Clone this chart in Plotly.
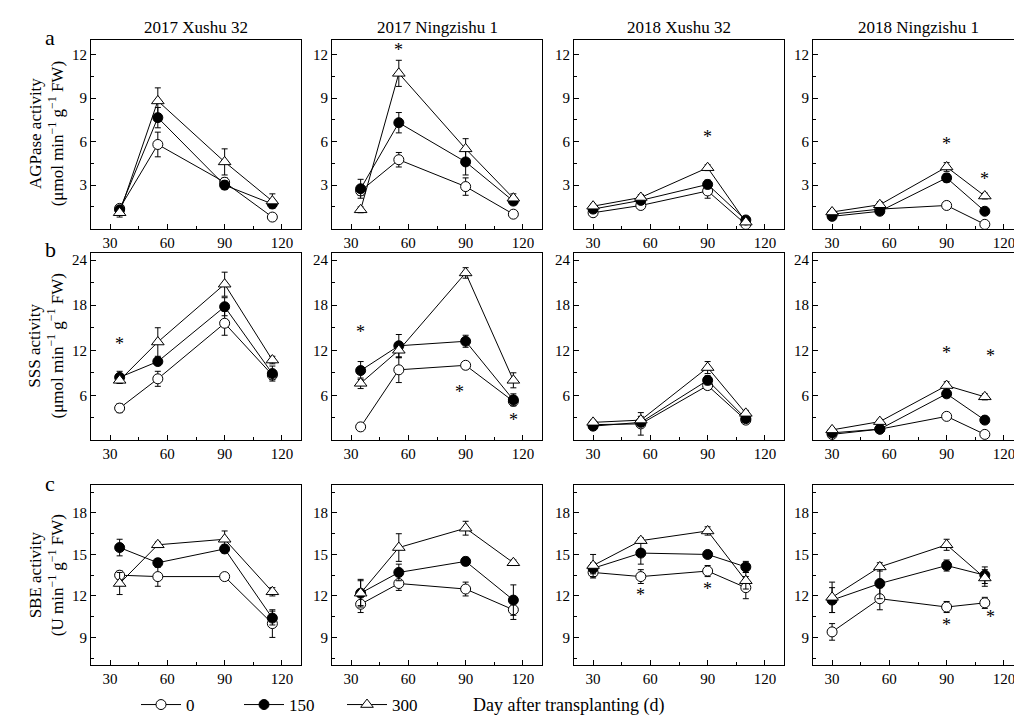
import plotly.graph_objects as go

# ---------------- data ----------------
col_titles = ["2017 Xushu 32", "2017 Ningzishu 1", "2018 Xushu 32", "2018 Ningzishu 1"]
row_letters = ["a", "b", "c"]
series_names = ["0", "150", "300"]
days_2017 = [35, 55, 90, 115]
days_2018 = [30, 55, 90, 110]
x_ticks = [30, 60, 90, 120]

# AGPase activity
agp_x17_0 = [1.4, 5.8, 3.2, 0.8];    agp_x17_0_err = [0.2, 0.85, 0.3, 0.15]
agp_x17_150 = [1.3, 7.65, 3.0, 1.7]; agp_x17_150_err = [0.2, 0.7, 0.3, 0.2]
agp_x17_300 = [1.1, 8.8, 4.6, 1.9];  agp_x17_300_err = [0.3, 0.9, 0.9, 0.5]
agp_n17_0 = [2.6, 4.75, 2.9, 1.0];   agp_n17_0_err = [0.3, 0.5, 0.6, 0.2]
agp_n17_150 = [2.75, 7.3, 4.6, 1.9]; agp_n17_150_err = [0.65, 0.7, 0.9, 0.2]
agp_n17_300 = [1.3, 10.7, 5.5, 2.1]; agp_n17_300_err = [0.2, 0.9, 0.7, 0.3]
agp_x18_0 = [1.1, 1.6, 2.6, 0.3];    agp_x18_0_err = [0.2, 0.2, 0.5, 0.1]
agp_x18_150 = [1.35, 1.95, 3.05, 0.6]; agp_x18_150_err = [0.15, 0.2, 0.3, 0.1]
agp_x18_300 = [1.55, 2.15, 4.2, 0.45]; agp_x18_300_err = [0.15, 0.2, 0.2, 0.1]
agp_n18_0 = [1.0, 1.35, 1.6, 0.3];   agp_n18_0_err = [0.15, 0.15, 0.2, 0.1]
agp_n18_150 = [0.85, 1.2, 3.5, 1.2]; agp_n18_150_err = [0.15, 0.15, 0.3, 0.15]
agp_n18_300 = [1.15, 1.65, 4.25, 2.25]; agp_n18_300_err = [0.15, 0.2, 0.3, 0.2]

# SSS activity
sss_x17_0 = [4.3, 8.2, 15.6, 8.7];     sss_x17_0_err = [0.6, 1.0, 1.6, 0.6]
sss_x17_150 = [8.4, 10.5, 17.8, 8.9];  sss_x17_150_err = [0.8, 0.5, 1.2, 1.0]
sss_x17_300 = [8.0, 13.1, 20.8, 10.7]; sss_x17_300_err = [0.4, 1.9, 1.6, 0.5]
sss_n17_0 = [1.8, 9.4, 10.0, 5.2];     sss_n17_0_err = [0.5, 1.7, 0.5, 0.5]
sss_n17_150 = [9.3, 12.6, 13.2, 5.4];  sss_n17_150_err = [1.2, 1.5, 0.8, 0.8]
sss_n17_300 = [7.6, 12.0, 22.3, 8.0];  sss_n17_300_err = [0.7, 1.0, 0.7, 1.0]
sss_x18_0 = [2.1, 2.2, 7.3, 2.7];      sss_x18_0_err = [0.3, 1.5, 0.5, 0.3]
sss_x18_150 = [1.9, 2.4, 8.0, 2.9];    sss_x18_150_err = [0.3, 0.4, 0.6, 0.3]
sss_x18_300 = [2.4, 2.7, 9.7, 3.6];    sss_x18_300_err = [0.3, 0.5, 0.8, 0.4]
sss_n18_0 = [0.8, 1.5, 3.2, 0.8];      sss_n18_0_err = [0.2, 0.2, 0.3, 0.2]
sss_n18_150 = [1.0, 1.5, 6.2, 2.7];    sss_n18_150_err = [0.2, 0.2, 0.5, 0.3]
sss_n18_300 = [1.4, 2.5, 7.3, 5.8];    sss_n18_300_err = [0.2, 0.3, 0.5, 0.4]

# SBE activity
sbe_x17_0 = [13.5, 13.4, 13.4, 10.0];   sbe_x17_0_err = [0.3, 0.7, 0.1, 1.0]
sbe_x17_150 = [15.5, 14.4, 15.4, 10.4]; sbe_x17_150_err = [0.6, 0.3, 0.3, 0.5]
sbe_x17_300 = [12.9, 15.7, 16.1, 12.3]; sbe_x17_300_err = [0.8, 0.2, 0.6, 0.3]
sbe_n17_0 = [11.4, 12.9, 12.5, 11.0];   sbe_n17_0_err = [0.6, 0.5, 0.5, 0.7]
sbe_n17_150 = [12.2, 13.7, 14.5, 11.7]; sbe_n17_150_err = [0.9, 0.6, 0.3, 1.1]
sbe_n17_300 = [12.2, 15.5, 16.9, 14.4]; sbe_n17_300_err = [1.0, 1.0, 0.5, 0.2]
sbe_x18_0 = [13.7, 13.4, 13.8, 12.6];   sbe_x18_0_err = [0.4, 0.5, 0.4, 0.8]
sbe_x18_150 = [14.0, 15.1, 15.0, 14.1]; sbe_x18_150_err = [0.4, 0.8, 0.2, 0.4]
sbe_x18_300 = [14.2, 16.0, 16.7, 13.1]; sbe_x18_300_err = [0.8, 0.2, 0.3, 0.6]
sbe_n18_0 = [9.4, 11.8, 11.2, 11.5];    sbe_n18_0_err = [0.6, 0.8, 0.4, 0.4]
sbe_n18_150 = [11.7, 12.9, 14.2, 13.5]; sbe_n18_150_err = [0.9, 1.1, 0.4, 0.6]
sbe_n18_300 = [11.9, 14.1, 15.7, 13.3]; sbe_n18_300_err = [1.1, 0.3, 0.4, 0.6]

# significance marks: (row, col, day, value)
asterisks = [
    (0, 1, 55, 12.3), (0, 2, 90, 6.3), (0, 3, 90, 5.8), (0, 3, 110, 3.4),
    (1, 0, 35, 12.8), (1, 1, 35, 14.4), (1, 1, 87, 6.4), (1, 1, 115, 2.7),
    (1, 3, 90, 11.7), (1, 3, 113, 11.3),
    (2, 2, 55, 12.1), (2, 2, 90, 12.5), (2, 3, 90, 9.9), (2, 3, 113, 10.5),
]

y_titles = ["AGPase activity<br>(μmol min<sup>−1</sup> g<sup>−1</sup> FW)",
            "SSS activity<br>(μmol min<sup>−1</sup> g<sup>−1</sup> FW)",
            "SBE activity<br>(U min<sup>−1</sup> g<sup>−1</sup> FW)"]
y_ranges = [[0, 13], [0, 25], [7, 20]]
y_ticks = [[3, 6, 9, 12], [6, 12, 18, 24], [9, 12, 15, 18]]

panels = [
    [(days_2017, [(agp_x17_0, agp_x17_0_err), (agp_x17_150, agp_x17_150_err), (agp_x17_300, agp_x17_300_err)]),
     (days_2017, [(agp_n17_0, agp_n17_0_err), (agp_n17_150, agp_n17_150_err), (agp_n17_300, agp_n17_300_err)]),
     (days_2018, [(agp_x18_0, agp_x18_0_err), (agp_x18_150, agp_x18_150_err), (agp_x18_300, agp_x18_300_err)]),
     (days_2018, [(agp_n18_0, agp_n18_0_err), (agp_n18_150, agp_n18_150_err), (agp_n18_300, agp_n18_300_err)])],
    [(days_2017, [(sss_x17_0, sss_x17_0_err), (sss_x17_150, sss_x17_150_err), (sss_x17_300, sss_x17_300_err)]),
     (days_2017, [(sss_n17_0, sss_n17_0_err), (sss_n17_150, sss_n17_150_err), (sss_n17_300, sss_n17_300_err)]),
     (days_2018, [(sss_x18_0, sss_x18_0_err), (sss_x18_150, sss_x18_150_err), (sss_x18_300, sss_x18_300_err)]),
     (days_2018, [(sss_n18_0, sss_n18_0_err), (sss_n18_150, sss_n18_150_err), (sss_n18_300, sss_n18_300_err)])],
    [(days_2017, [(sbe_x17_0, sbe_x17_0_err), (sbe_x17_150, sbe_x17_150_err), (sbe_x17_300, sbe_x17_300_err)]),
     (days_2017, [(sbe_n17_0, sbe_n17_0_err), (sbe_n17_150, sbe_n17_150_err), (sbe_n17_300, sbe_n17_300_err)]),
     (days_2018, [(sbe_x18_0, sbe_x18_0_err), (sbe_x18_150, sbe_x18_150_err), (sbe_x18_300, sbe_x18_300_err)]),
     (days_2018, [(sbe_n18_0, sbe_n18_0_err), (sbe_n18_150, sbe_n18_150_err), (sbe_n18_300, sbe_n18_300_err)])],
]

# ---------------- layout / style ----------------
W, H = 1022, 715
FONT = "Liberation Serif, Times New Roman, serif"
col_px = [(83, 293), (324, 534), (566, 776), (805, 1015)]
row_px = [(32, 221), (245, 433), (478, 658)]
marker_styles = [
    dict(symbol="circle", size=10, color="white"),
    dict(symbol="circle", size=10, color="black"),
    dict(symbol="triangle-up", size=11, color="white"),
]

def fx(px):
    return px / W

def fy(py):
    return 1 - py / H

fig = go.Figure()
layout = dict(
    width=W, height=H, margin=dict(l=0, r=0, t=0, b=0),
    paper_bgcolor="white", plot_bgcolor="white",
    font=dict(family=FONT, size=15, color="black"),
    showlegend=True,
)
annotations = []

for r in range(3):
    for c in range(4):
        k = r * 4 + c + 1
        xa = "xaxis" if k == 1 else f"xaxis{k}"
        ya = "yaxis" if k == 1 else f"yaxis{k}"
        xref = "x" if k == 1 else f"x{k}"
        yref = "y" if k == 1 else f"y{k}"
        days, series = panels[r][c]
        for s, (vals, errs) in enumerate(series):
            ms = marker_styles[s]
            fig.add_trace(go.Scatter(
                x=days, y=vals, xaxis=xref, yaxis=yref,
                mode="lines+markers", name=series_names[s],
                legendgroup=series_names[s], showlegend=(k == 1),
                line=dict(color="black", width=1),
                marker=dict(symbol=ms["symbol"], size=ms["size"], color=ms["color"],
                            line=dict(color="black", width=1)),
                error_y=dict(type="data", array=errs, visible=True, color="black",
                             thickness=1, width=3),
            ))
        axis_common = dict(
            showline=True, linecolor="black", linewidth=1, mirror=True,
            ticks="inside", ticklen=5, tickcolor="black", showgrid=False, zeroline=False,
            tickfont=dict(family=FONT, size=15, color="black"),
        )
        layout[xa] = dict(axis_common, domain=[fx(col_px[c][0]), fx(col_px[c][1])],
                          anchor=yref, range=[20, 130], tickvals=x_ticks,
                          minor=dict(ticks="inside", ticklen=3, tickcolor="black",
                                     tickvals=[45, 75, 105]))
        yt = y_ticks[r]
        step = yt[1] - yt[0]
        minor_vals = [v + step / 2 for v in [yt[0] - step] + yt]
        layout[ya] = dict(axis_common, domain=[fy(row_px[r][1]), fy(row_px[r][0])],
                          anchor=xref, range=y_ranges[r], tickvals=yt,
                          minor=dict(ticks="inside", ticklen=3, tickcolor="black",
                                     tickvals=minor_vals))

for (r, c, d, v) in asterisks:
    k = r * 4 + c + 1
    annotations.append(dict(x=d, y=v, xref="x" if k == 1 else f"x{k}",
                            yref="y" if k == 1 else f"y{k}", text="*", showarrow=False,
                            xanchor="center", yanchor="middle",
                            font=dict(family=FONT, size=18, color="black")))

for c, t in enumerate(col_titles):
    annotations.append(dict(x=fx((col_px[c][0] + col_px[c][1]) / 2), y=fy(20),
                            xref="paper", yref="paper", text=t, showarrow=False,
                            xanchor="center", yanchor="middle",
                            font=dict(family=FONT, size=17, color="black")))

for r, t in enumerate(y_titles):
    annotations.append(dict(x=fx(38), y=fy((row_px[r][0] + row_px[r][1]) / 2),
                            xref="paper", yref="paper", text=t, showarrow=False,
                            xanchor="center", yanchor="middle",
                            textangle=-90, font=dict(family=FONT, size=17, color="black")))

letter_y = [30, 242, 476]
for r, t in enumerate(row_letters):
    annotations.append(dict(x=fx(42), y=fy(letter_y[r]), xref="paper", yref="paper",
                            text=t, showarrow=False, xanchor="center", yanchor="middle",
                            font=dict(family=FONT, size=22, color="black")))

annotations.append(dict(x=fx(560), y=fy(698), xref="paper", yref="paper",
                        text="Day after transplanting (d)", showarrow=False,
                        xanchor="center", yanchor="middle",
                        font=dict(family=FONT, size=18, color="black")))

layout["annotations"] = annotations
layout["legend"] = dict(orientation="h", x=fx(128), y=fy(698), xanchor="left",
                        yanchor="middle", font=dict(family=FONT, size=17, color="black"),
                        bgcolor="rgba(0,0,0,0)", itemwidth=40,
                        entrywidth=48, entrywidthmode="pixels")
fig.update_layout(**layout)
fig.write_html("out.html")
